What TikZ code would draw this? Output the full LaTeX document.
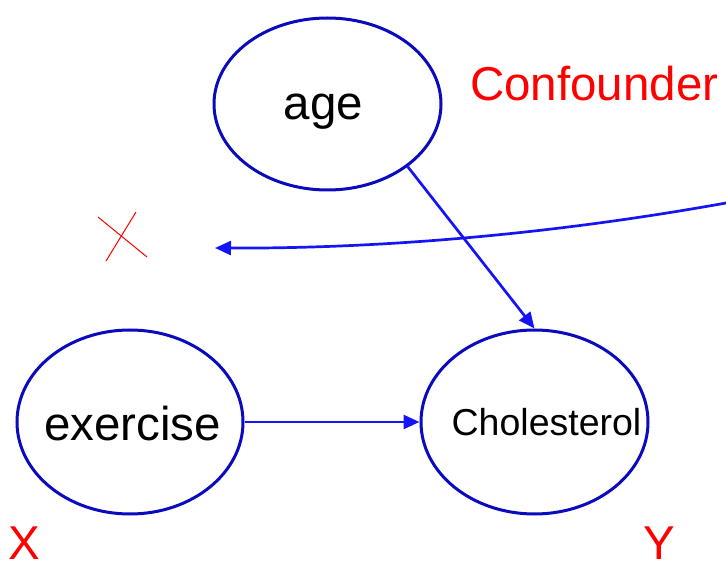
\documentclass[tikz,border=0pt]{standalone}
\usepackage{fontspec}
\setmainfont{Liberation Sans}
\usetikzlibrary{shapes.geometric,arrows.meta}
\definecolor{rimblue}{RGB}{10,10,190}
\definecolor{linkblue}{RGB}{20,20,245}
\definecolor{tagred}{RGB}{255,0,0}
\tikzset{
  varnode/.style={ellipse, draw=rimblue, line width=3pt, inner sep=0pt},
  varlabel/.style={anchor=base, inner sep=0pt, font=\fontsize{47.5}{52}\selectfont},
  redlabel/.style={anchor=base west, inner sep=0pt, text=tagred, font=\fontsize{47.5}{52}\selectfont},
  link/.style={draw=linkblue, line width=2.7pt, -{Triangle[length=16pt,width=14pt]}},
}
\begin{document}
\begin{tikzpicture}[x=1pt,y=-1pt]
  \useasboundingbox (0,0) rectangle (726,564);

  % variables
  \node[varnode, minimum width=227pt, minimum height=172pt] (age) at (327.5,104) {};
  \node[varnode, minimum width=226pt, minimum height=184pt] (exer) at (130,422) {};
  \node[varnode, minimum width=227pt, minimum height=184pt] (chol) at (534.5,422) {};

  \node[varlabel] (agetxt) at (323.5,120) {age};
  \node[varlabel] (exertxt) at (132.5,440) {exercise};
  \node[varlabel, font=\fontsize{37.5}{41}\selectfont] (choltxt) at (546.5,435) {Cholesterol};

  % red annotations
  \node[redlabel] (conf) at (470,101) {Confounder};
  \node[redlabel] (xlab) at (8,559) {X};
  \node[redlabel] (ylab) at (643,559) {Y};

  % causal links
  \draw[link] (age.-38) -- (chol.north);
  \draw[link] (exer.east) -- (chol.west);

  % pointer from the confounder label to the removed link
  \coordinate (ptrstart) at (726,203);
  \coordinate (ptrend) at (215,248);
  \draw[link] (ptrstart) .. controls (555.3,233.7) and (385,248.7) .. (ptrend);

  % cross marking the removed link
  \draw[tagred, line width=1pt] (98,217) -- (147,257);
  \draw[tagred, line width=1pt] (136,212) -- (106,261);
\end{tikzpicture}
\end{document}
